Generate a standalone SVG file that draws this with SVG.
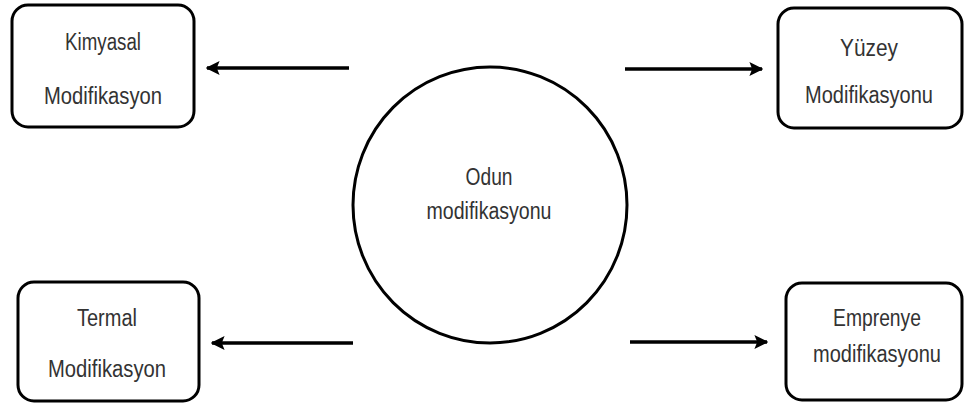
<svg xmlns="http://www.w3.org/2000/svg" width="965" height="403" viewBox="0 0 965 403">
<style>
.box{fill:#fff;stroke:#000;stroke-width:3}
.circ{fill:#fff;stroke:#000;stroke-width:3}
.lbl{font-family:"Liberation Sans",Arial,sans-serif;font-size:23px;fill:#333;text-anchor:middle}
.conn{stroke:#000;stroke-width:3.5;fill:none;marker-end:url(#ah)}
</style>
<defs>
<marker id="ah" markerWidth="4" markerHeight="4" refX="3.6" refY="2" orient="auto" markerUnits="strokeWidth">
<path d="M0,0 L4,2 L0,4 L0.8,2 Z" fill="#000"/>
</marker>
</defs>
<rect width="965" height="403" fill="#fff"/>
<g id="center">
<ellipse class="circ" cx="490" cy="205" rx="137" ry="138"/>
<text class="lbl" x="489" y="185" textLength="47" lengthAdjust="spacingAndGlyphs">Odun</text>
<text class="lbl" x="489" y="219" textLength="125" lengthAdjust="spacingAndGlyphs">modifikasyonu</text>
</g>
<g id="kimyasal">
<rect class="box" x="12" y="5" width="182" height="122" rx="16"/>
<text class="lbl" x="103" y="50" textLength="76" lengthAdjust="spacingAndGlyphs">Kimyasal</text>
<text class="lbl" x="103" y="104" textLength="118" lengthAdjust="spacingAndGlyphs">Modifikasyon</text>
</g>
<g id="yuzey">
<rect class="box" x="778" y="8" width="184" height="120" rx="16"/>
<text class="lbl" x="869" y="56" textLength="58" lengthAdjust="spacingAndGlyphs">Yüzey</text>
<text class="lbl" x="869" y="103" textLength="128" lengthAdjust="spacingAndGlyphs">Modifikasyonu</text>
</g>
<g id="termal">
<rect class="box" x="18" y="282" width="181" height="119" rx="16"/>
<text class="lbl" x="107" y="326" textLength="60" lengthAdjust="spacingAndGlyphs">Termal</text>
<text class="lbl" x="107" y="377" textLength="118" lengthAdjust="spacingAndGlyphs">Modifikasyon</text>
</g>
<g id="emprenye">
<rect class="box" x="786" y="283" width="176" height="117" rx="16"/>
<text class="lbl" x="877" y="326" textLength="88" lengthAdjust="spacingAndGlyphs">Emprenye</text>
<text class="lbl" x="877" y="362" textLength="128" lengthAdjust="spacingAndGlyphs">modifikasyonu</text>
</g>
<g id="connectors">
<line class="conn" x1="349" y1="68" x2="207" y2="68"/>
<line class="conn" x1="625" y1="69" x2="762" y2="69"/>
<line class="conn" x1="353" y1="343" x2="212" y2="343"/>
<line class="conn" x1="630" y1="342" x2="767" y2="342"/>
</g>
</svg>
